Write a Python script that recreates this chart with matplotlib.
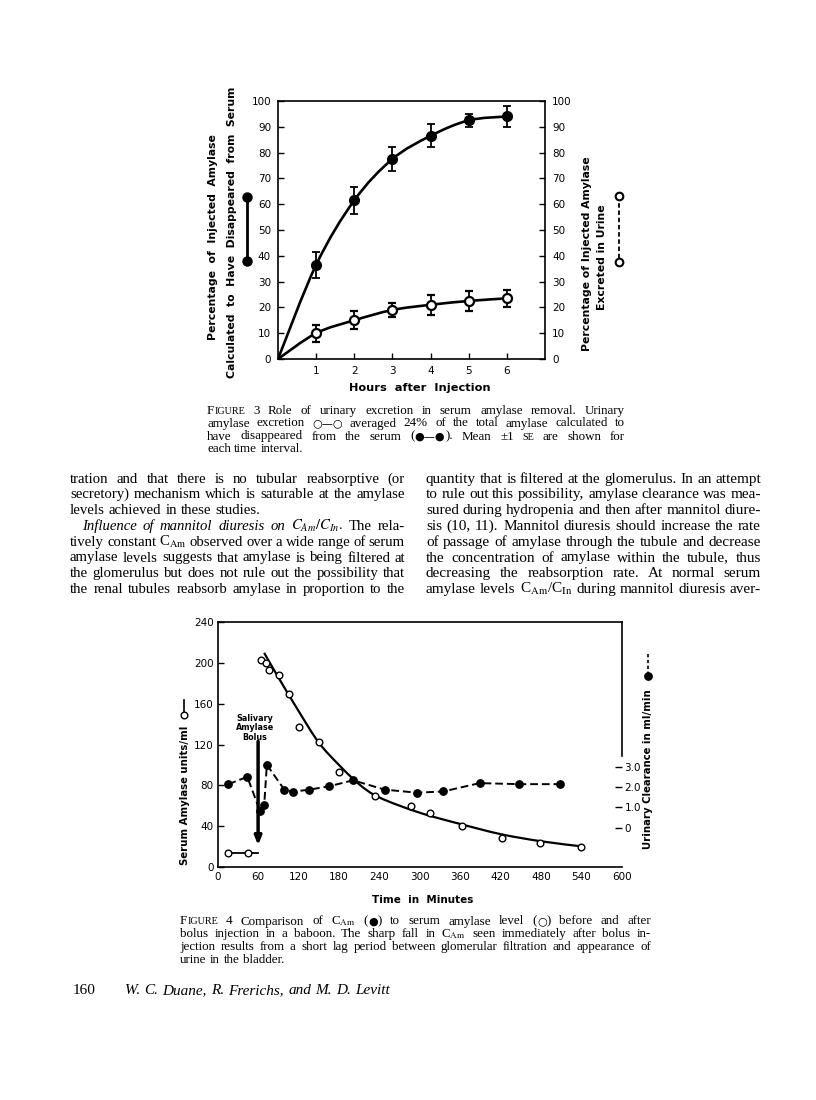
import numpy as np
import matplotlib
matplotlib.use("Agg")
import matplotlib.pyplot as plt
from matplotlib.path import Path
from matplotlib.patches import PathPatch
from matplotlib.lines import Line2D

W, H = 816, 1100
plt.rcParams['mathtext.fontset'] = 'stix'
SANS = ['DejaVu Sans']
SERIF = ['Liberation Serif', 'DejaVu Sans']

# ---- Figure 3 data (percent of injected amylase, mean and 1 SE) ----
hours = [1, 2, 3, 4, 5, 6]
serum_pct = [36.5, 61.5, 77.5, 86.5, 92.5, 94]
serum_se = [5, 5.2, 4.5, 4.5, 2.5, 4]
urine_pct = [10, 15, 19, 21, 22.5, 23.5]
urine_se = [3.3, 3.5, 2.8, 4, 4, 3.3]
curve_start = (0, 0)

# ---- Figure 4 data ----
bolus_t = 60
serum_t = [15, 45, 64, 72, 76, 91, 106, 120, 150, 180, 234, 287, 315, 363, 422, 478, 540]
serum_v = [13, 13, 203, 200, 193, 188, 170, 137, 122, 93, 69, 60, 53, 40, 28, 23.5, 19.5]
fit_t = [69, 90, 120, 150, 180, 210, 240, 300, 360, 420, 480, 540]
fit_v = [210, 186, 153, 122, 100, 81, 68, 53, 42, 32, 25, 20]
clr_t = [16, 44, 63, 69, 73, 99, 112, 136, 165, 201, 248, 296, 335, 389, 448, 509]
clr_v = [2.14, 2.5, 0.8, 1.1, 3.09, 1.87, 1.77, 1.87, 2.03, 2.33, 1.87, 1.72, 1.78, 2.19, 2.14, 2.14]

# ---- page text ('*' italic, '^' small caps size, '#' symbol font, '~' no space before) ----
cap3 = ["F ~^IGURE 3 Role of urinary excretion in serum amylase removal. Urinary",
        "amylase excretion #○—○ averaged 24% of the total amylase calculated to",
        "have disappeared from the serum ( ~#●—● ~). Mean ±1 ^SE are shown for",
        "each time interval."]
left_col = ["tration and that there is no tubular reabsorptive (or",
            "secretory) mechanism which is saturable at the amylase",
            "levels achieved in these studies.",
            r"*Influence *of *mannitol *diuresis *on *$C_{Am}/C_{In}.$ The rela-",
            r"tively constant C$_{\mathrm{Am}}$ observed over a wide range of serum",
            "amylase levels suggests that amylase is being filtered at",
            "the glomerulus but does not rule out the possibility that",
            "the renal tubules reabsorb amylase in proportion to the"]
right_col = ["quantity that is filtered at the glomerulus. In an attempt",
             "to rule out this possibility, amylase clearance was mea-",
             "sured during hydropenia and then after mannitol diure-",
             "sis (10, 11). Mannitol diuresis should increase the rate",
             "of passage of amylase through the tubule and decrease",
             "the concentration of amylase within the tubule, thus",
             "decreasing the reabsorption rate. At normal serum",
             r"amylase levels C$_{\mathrm{Am}}$/C$_{\mathrm{In}}$ during mannitol diuresis aver-"]
cap4 = [r"F ~^IGURE 4 Comparison of C$_{\mathrm{Am}}$ ( ~#● ~) to serum amylase level ( ~#○ ~) before and after",
        r"bolus injection in a baboon. The sharp fall in C$_{\mathrm{Am}}$ seen immediately after bolus in-",
        "jection results from a short lag period between glomerular filtration and appearance of",
        "urine in the bladder."]
footer = "*W. *C. *Duane, *R. *Frerichs, *and *M. *D. *Levitt"

fig = plt.figure(figsize=(W / 100, H / 100), dpi=100)
fig.patch.set_facecolor('white')
renderer = fig.canvas.get_renderer()


def fx(x):
    return x / W


def fy(y):
    return 1 - y / H


def smooth(ax, xs, ys, **kw):
    # Catmull-Rom through the points, drawn as cubic Bezier pieces
    pts = np.column_stack([xs, ys]).astype(float)
    n = len(pts)
    verts, codes = [pts[0]], [Path.MOVETO]
    for i in range(n - 1):
        p0, p1, p2, p3 = pts[max(i - 1, 0)], pts[i], pts[i + 1], pts[min(i + 2, n - 1)]
        verts += [p1 + (p2 - p0) / 6, p2 - (p3 - p1) / 6, p2]
        codes += [Path.CURVE4] * 3
    ax.add_patch(PathPatch(Path(verts, codes), fill=False, **kw))


def measure(txt, st, fs, fam):
    t = fig.text(0, 0, txt, fontsize=fs, style=st, family=fam)
    w = t.get_window_extent(renderer).width
    t.remove()
    return w


def parse(line, fs):
    words = []
    for tok in line.split():
        glue = tok.startswith('~')
        tok = tok.lstrip('~')
        st, f, fam = 'normal', fs, SERIF
        if tok.startswith('#'):
            fam, f, tok = SANS, fs * 0.85, tok[1:]
        if tok.startswith('*'):
            st, tok = 'italic', tok[1:]
        if tok.startswith('^'):
            f, tok = fs * 0.78, tok[1:]
        if glue and words:
            words[-1].append((tok, st, f, fam))
        else:
            words.append([(tok, st, f, fam)])
    return words


def layout(line, x0, x1, fs, justify):
    words = parse(line, fs)
    widths = [[measure(*p) for p in w] for w in words]
    total = sum(sum(w) for w in widths)
    if justify and len(words) > 1:
        gap = (x1 - x0 - total) / (len(words) - 1)
    else:
        gap = fs * 100 / 72 * 0.27
    return words, widths, gap


def text_line(line, x0, x1, y, fs, justify=True):
    words, widths, gap = layout(line, x0, x1, fs, justify)
    x = x0
    for w, ws in zip(words, widths):
        for (txt, st, f, fam), wd in zip(w, ws):
            fig.text(fx(x), fy(y), txt, fontsize=f, style=st, family=fam, va='baseline')
            x += wd
        x += gap


def block(lines, x0, x1, y0, dy, fs, free=(), indent=()):
    # one size for the block, small enough that every justified line keeps word spaces
    starts = [x0 + (12 if i in indent else 0) for i in range(len(lines))]
    while fs > 5:
        gaps = [layout(l, s, x1, fs, True)[2] for i, (l, s) in enumerate(zip(lines, starts))
                if i not in free]
        if min(gaps) >= fs * 100 / 72 * 0.2:
            break
        fs -= 0.1
    for i, line in enumerate(lines):
        text_line(line, starts[i], x1, y0 + dy * i, fs, justify=i not in free)


# ================= Figure 3 =================
ax3 = fig.add_axes([fx(278), fy(359), (545 - 278) / W, (359 - 101) / H])
ax3.set_xlim(0, 7)
ax3.set_ylim(0, 100)
ax3.set_xticks(hours)
ax3.set_yticks(range(0, 101, 10))
ax3.tick_params(direction='in', length=4, width=1, labelsize=7.5, right=True,
                labelright=True, top=False, pad=5)
for lab in ax3.get_xticklabels() + ax3.get_yticklabels():
    lab.set_family(SANS)
for s in ax3.spines.values():
    s.set_linewidth(1.2)

smooth(ax3, [curve_start[0]] + hours, [curve_start[1]] + serum_pct, lw=1.9, ec='k', zorder=2)
smooth(ax3, [curve_start[0]] + hours, [curve_start[1]] + urine_pct, lw=1.9, ec='k', zorder=2)
ax3.errorbar(hours, serum_pct, yerr=serum_se, fmt='o', color='k', ms=7, capsize=3,
             elinewidth=1.3, capthick=1.3, zorder=3)
ax3.errorbar(hours, urine_pct, yerr=urine_se, fmt='o', color='k', mfc='white', mec='k',
             mew=1.6, ms=6.5, capsize=3, elinewidth=1.3, capthick=1.3, zorder=3)

lab_kw = dict(rotation=90, ha='center', va='center', fontsize=7.8, fontweight='bold',
              family=SANS)
fig.text(fx(213), fy(237), 'Percentage  of  Injected  Amylase', **lab_kw)
fig.text(fx(232), fy(232), 'Calculated  to  Have  Disappeared  from  Serum', **lab_kw)
fig.text(fx(587), fy(254), 'Percentage of Injected Amylase', **lab_kw)
fig.text(fx(602), fy(257), 'Excreted in Urine', **lab_kw)
fig.text(fx(420), fy(388), 'Hours  after  Injection', ha='center', va='center',
         fontsize=8.2, fontweight='bold', family=SANS)

fig.add_artist(Line2D([fx(247)] * 2, [fy(197), fy(261)], color='k', lw=2, marker='o',
                      ms=6.5, transform=fig.transFigure))
fig.add_artist(Line2D([fx(619)] * 2, [fy(196), fy(262)], color='k', lw=1.3, ls=(0, (2.5, 1.5)),
                      marker='o', ms=5.5, mfc='white', mew=1.5, transform=fig.transFigure))

# ================= text =================
block(cap3, 207, 625, 413.5, 13, 9.4, free=(3,))
block(left_col, 70, 405, 482.5, 15.8, 11, free=(2,), indent=(3,))
block(right_col, 426, 761, 482.5, 15.8, 11)

# ================= Figure 4 =================
ax4 = fig.add_axes([fx(217.7), fy(866.7), 404 / W, 244.4 / H])
ax4.set_xlim(0, 600)
ax4.set_ylim(0, 240)
ax4.set_xticks(range(0, 601, 60))
ax4.set_yticks(range(0, 241, 40))
ax4.tick_params(axis='y', direction='in', length=4, width=1, labelsize=7.5, pad=3)
ax4.tick_params(axis='x', length=0, labelsize=7.5, pad=4)
for lab in ax4.get_xticklabels() + ax4.get_yticklabels():
    lab.set_family(SANS)
ax4.spines['right'].set_visible(False)
for s in ['left', 'bottom', 'top']:
    ax4.spines[s].set_linewidth(1.2)

ax2 = ax4.twinx()
ax2.set_ylim(-1.92, 10.10)
ax2.set_yticks([0, 1, 2, 3])
ax2.set_yticklabels(['0', '1.0', '2.0', '3.0'])
ax2.tick_params(direction='in', length=5, width=1, labelsize=7.5, pad=2)
for lab in ax2.get_yticklabels():
    lab.set_family(SANS)
for s in ['left', 'bottom', 'top']:
    ax2.spines[s].set_visible(False)
ax2.spines['right'].set_linewidth(1.2)
ax2.spines['right'].set_bounds(3.5, 10.10)

ax4.plot([serum_t[0], bolus_t], [serum_v[0], serum_v[0]], color='k', lw=1.3, zorder=2)
smooth(ax4, fit_t, fit_v, lw=1.6, ec='k', zorder=2)
ax4.plot(serum_t, serum_v, 'o', mfc='white', mec='k', ms=4.8, mew=1, zorder=3)
ax2.plot(clr_t, clr_v, color='k', lw=1.4, ls=(0, (4, 2)), marker='o', ms=5.3, zorder=3)

ax4.annotate('', xy=(bolus_t, 21), xytext=(bolus_t, 123),
             arrowprops=dict(arrowstyle='-|>,head_length=0.5,head_width=0.2', lw=2.5,
                             fc='white', ec='k', shrinkA=0, shrinkB=0), zorder=4)
ax4.text(55, 136.5, 'Salivary\nAmylase\nBolus', ha='center', va='center', fontsize=5.8,
         fontweight='bold', family=SANS, linespacing=1.05)

fig.text(fx(185), fy(795), 'Serum Amylase units/ml', rotation=90, ha='center', va='center',
         fontsize=7.3, fontweight='bold', family=SANS)
fig.text(fx(648), fy(769), 'Urinary Clearance in ml/min', rotation=90, ha='center',
         va='center', fontsize=7.3, fontweight='bold', family=SANS)
fig.text(fx(423), fy(900), 'Time  in  Minutes', ha='center', va='center', fontsize=7.5,
         fontweight='bold', family=SANS)
fig.add_artist(Line2D([fx(184)] * 2, [fy(700), fy(713)], color='k', lw=1.2,
                      transform=fig.transFigure))
fig.add_artist(Line2D([fx(184)], [fy(715)], marker='o', ms=4.8, mfc='white', mec='k',
                      mew=1, transform=fig.transFigure))
fig.add_artist(Line2D([fx(648)] * 2, [fy(654), fy(674)], color='k', lw=1.2, ls=(0, (2, 1.5)),
                      transform=fig.transFigure))
fig.add_artist(Line2D([fx(648)], [fy(676)], marker='o', ms=5.3, color='k',
                      transform=fig.transFigure))

block(cap4, 180, 651, 924.5, 12.8, 9.4, free=(3,))

fig.text(fx(73), fy(994.5), '160', fontsize=11, family=SERIF, va='baseline')
text_line(footer, 125, 408, 994.5, 11, justify=False)

fig.savefig('out.png', dpi=100)
